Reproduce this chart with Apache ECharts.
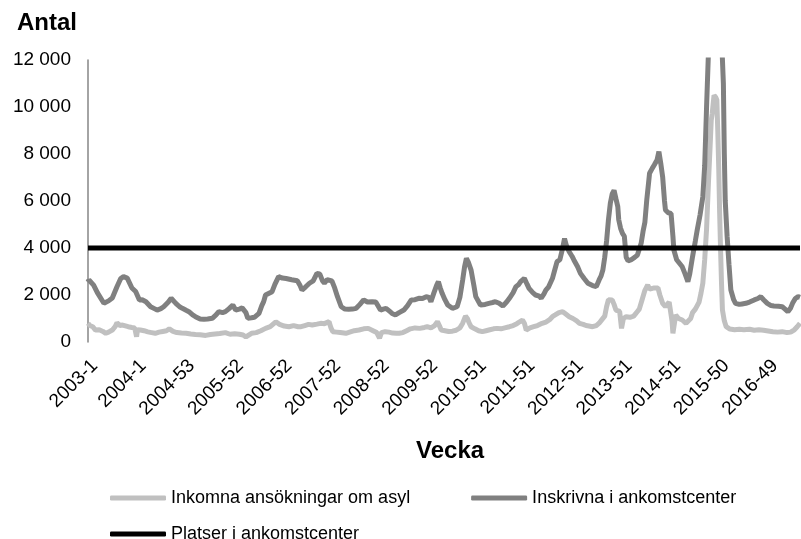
<!DOCTYPE html>
<html>
<head>
<meta charset="utf-8">
<title></title>
<style>
  * { margin: 0; padding: 0; }
  #chart { width: 801px; height: 539px; background: #fff; }
</style>
<script src="https://cdn.jsdelivr.net/npm/echarts@6/dist/echarts.min.js"></script>
</head>
<body>
<div id="chart"></div>
<script>
// tick labels, one every 52 weeks from 2003-1
var tickLabels = ['2003-1', '2004-1', '2004-53', '2005-52', '2006-52', '2007-52', '2008-52',
  '2009-52', '2010-51', '2011-51', '2012-51', '2013-51', '2014-51', '2015-50', '2016-49'];

// Inkomna ansökningar om asyl (week index, value)
var asylWeeks = [0,2,5,8,12,16,19,22,26,29,31,34,37,39,43,47,50,51,52,53,56,60,64,68,72,76,80,84,87,91,95,100,105,110,115,120,126,131,136,141,147,152,157,162,166,169,171,175,180,185,190,195,201,205,210,215,220,225,228,232,236,240,245,249,253,258,260,262,266,270,276,280,285,290,295,300,305,309,312,314,318,322,326,330,333,337,341,345,350,355,360,363,367,371,374,376,378,382,386,390,394,398,401,404,406,408,410,414,418,422,426,430,434,438,442,446,451,455,459,462,465,467,469,473,477,481,486,490,494,497,500,504,508,511,515,519,523,526,530,533,536,540,544,547,550,553,555,557,559,561,563,565,567,569,571,573,576,580,584,586,588,590,593,596,597,599,601,603,606,608,610,612,615,618,620,622,624,625,626,628,629,632,636,640,642,645,647,650,654,656,658,660,662,664,666,667,668,670,672,673,674,675,676,677,678,679,681,683,687,692,697,702,708,713,718,723,728,733,738,743,748,752,756,759,762];
var asylValues = [800,700,650,510,520,450,370,420,510,650,820,700,720,725,650,620,600,580,225,520,510,480,430,400,370,420,450,480,560,450,400,380,370,340,320,310,280,320,340,360,400,330,350,330,300,215,300,370,400,480,580,650,860,750,680,650,700,650,650,700,750,725,760,795,780,865,600,440,420,400,370,420,480,510,560,580,480,400,160,400,440,420,380,370,370,400,480,560,600,580,620,650,600,700,865,700,510,480,450,460,500,600,800,1100,1000,800,650,560,480,440,480,520,560,580,560,600,650,700,780,860,936,800,510,600,650,700,795,850,950,1077,1150,1250,1290,1200,1077,1000,900,795,750,700,680,650,700,800,950,1100,1500,1800,1860,1790,1600,1360,1290,1300,580,1000,1077,1050,1100,1077,1300,1400,1800,2200,2280,2425,2250,2200,2300,2280,2300,2000,1645,1500,1600,1700,1645,900,370,900,1150,1000,936,795,725,1000,1250,1400,1700,2070,2500,3500,4800,6760,8500,9445,9700,10500,10400,10300,9000,7460,5500,3915,2500,1360,900,650,550,520,540,520,540,500,520,500,470,440,420,440,400,420,520,650,800];

// Inskrivna i ankomstcenter (week index, value)
var inskrWeeks = [0,1,6,10,17,22,26,31,35,38,42,47,51,53,55,58,62,67,71,74,78,81,86,89,94,98,101,105,108,112,115,120,124,128,133,137,140,144,147,151,155,158,162,165,167,169,171,175,178,183,186,188,190,192,197,200,204,208,212,218,224,227,229,233,237,241,245,248,251,253,256,258,261,264,267,271,275,279,283,287,291,295,299,304,308,310,313,316,319,323,326,329,333,338,342,346,350,354,358,362,365,367,370,373,375,377,379,382,385,390,395,398,401,403,405,407,410,413,415,420,425,429,433,436,440,444,448,451,455,458,461,463,465,467,470,472,476,479,483,485,488,490,493,495,497,499,502,505,508,510,512,515,518,520,524,527,531,535,540,544,547,549,551,553,555,557,559,561,563,565,567,568,570,572,574,576,578,581,585,588,590,592,594,596,598,600,601,604,606,609,611,613,615,617,618,621,624,626,627,630,633,636,639,642,644,647,650,652,655,658,660,661,662,664,667,671,675,678,680,681,682,684,686,688,691,693,697,700,704,708,713,717,720,723,727,731,734,739,743,746,749,752,754,757,760,762];
var inskrValues = [2550,2640,2420,2100,1650,1750,1870,2350,2700,2780,2720,2300,2150,2140,1790,1800,1715,1500,1420,1360,1420,1500,1700,1860,1645,1500,1433,1350,1290,1150,1077,980,965,980,1008,1150,1290,1250,1290,1420,1574,1360,1400,1450,1433,1250,1008,1030,1050,1220,1550,1715,2000,2070,2140,2450,2780,2720,2700,2650,2610,2400,2210,2350,2500,2600,2920,2900,2600,2510,2650,2710,2600,2300,1930,1500,1400,1390,1400,1433,1600,1790,1700,1715,1700,1715,1360,1400,1433,1300,1200,1150,1250,1360,1550,1790,1800,1860,1850,1930,1900,1715,2070,2400,2570,2300,2070,1800,1574,1433,1500,1900,2640,3200,3560,3400,3060,2400,1930,1574,1600,1645,1680,1715,1650,1530,1700,1860,2100,2355,2450,2570,2600,2710,2450,2280,2100,2000,1950,1860,2050,2210,2350,2425,2700,2990,3420,3500,4000,4400,4100,3840,3650,3490,3200,2920,2700,2500,2400,2355,2640,2800,3060,3600,4300,5200,5900,6300,6450,6100,5760,5200,4840,4625,4500,3600,3450,3490,3600,3700,3775,4200,4700,5100,6040,6800,7180,7400,7530,7745,8100,7600,7030,6000,5620,5500,5475,4500,3915,3500,3350,3200,2900,2570,2900,3630,4300,4765,5400,6180,7500,8735,10000,12300,14500,16000,15000,13000,11000,8000,6000,4500,3300,2210,1800,1645,1600,1620,1645,1700,1790,1850,1930,1800,1645,1550,1530,1520,1500,1400,1290,1450,1645,1850,1930,1900];

// Platser i ankomstcenter
var platserWeeks = [0, 762];
var platserValues = [4000, 4000];

function pairs(xs, ys) {
  var out = [];
  for (var i = 0; i < xs.length; i++) out.push([xs[i], ys[i]]);
  return out;
}

var chart = echarts.init(document.getElementById('chart'));
var font = 'Liberation Sans, Arial, sans-serif';

chart.setOption({
  animation: false,
  backgroundColor: '#fff',
  title: [
    { text: 'Antal', left: 12, top: 6, textStyle: { fontFamily: font, fontSize: 24, fontWeight: 'bold', color: '#000' } },
    { text: 'Vecka', left: 411, top: 434, textStyle: { fontFamily: font, fontSize: 24, fontWeight: 'bold', color: '#000' } }
  ],
  legend: [
    {
      data: ['Inkomna ansökningar om asyl', 'Inskrivna i ankomstcenter'],
      left: 105, top: 484, icon: 'roundRect', itemWidth: 56, itemHeight: 5, itemGap: 61,
      textStyle: { fontFamily: font, fontSize: 18, color: '#000' }
    },
    {
      data: ['Platser i ankomstcenter'],
      left: 105, top: 520, icon: 'roundRect', itemWidth: 56, itemHeight: 5,
      textStyle: { fontFamily: font, fontSize: 18, color: '#000' }
    }
  ],
  grid: { left: 88, right: 1, top: 60, bottom: 197 },
  xAxis: {
    type: 'value', min: 0, max: 762, interval: 52,
    axisLine: { show: false }, axisTick: { show: false }, splitLine: { show: false },
    axisLabel: {
      rotate: 45, margin: 14, showMaxLabel: false, verticalAlign: 'top',
      fontFamily: font, fontSize: 19, color: '#000',
      formatter: function (v) { return tickLabels[v / 52] || ''; }
    }
  },
  yAxis: {
    type: 'value', min: 0, max: 12000, interval: 2000,
    axisLine: { show: true, lineStyle: { color: '#868686', width: 1.5 } },
    axisTick: { show: false }, splitLine: { show: false },
    axisLabel: {
      margin: 17, fontFamily: font, fontSize: 19, color: '#000',
      formatter: function (v) { return String(v).replace(/\B(?=(\d{3})+(?!\d))/g, ' '); }
    }
  },
  series: [
    {
      name: 'Inkomna ansökningar om asyl', type: 'line', symbol: 'none',
      data: pairs(asylWeeks, asylValues),
      lineStyle: { color: '#c0c0c0', width: 5 }, itemStyle: { color: '#c0c0c0' }
    },
    {
      name: 'Inskrivna i ankomstcenter', type: 'line', symbol: 'none',
      data: pairs(inskrWeeks, inskrValues),
      lineStyle: { color: '#808080', width: 5 }, itemStyle: { color: '#808080' }
    },
    {
      name: 'Platser i ankomstcenter', type: 'line', symbol: 'none',
      data: pairs(platserWeeks, platserValues),
      lineStyle: { color: '#000', width: 5 }, itemStyle: { color: '#000' }
    }
  ]
});
</script>
</body>
</html>
